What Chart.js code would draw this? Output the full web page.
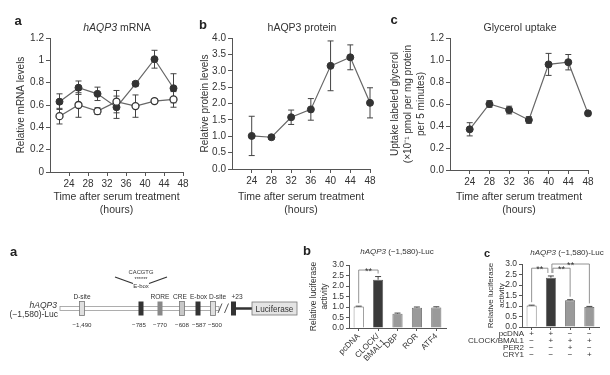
<!DOCTYPE html>
<html><head><meta charset="utf-8">
<script src="https://cdn.jsdelivr.net/npm/chart.js@4.4.1/dist/chart.umd.min.js"></script>
<style>
html,body{margin:0;padding:0;background:#fff}
body{width:610px;height:375px;position:relative;overflow:hidden;font-family:"Liberation Sans",Arial,Helvetica,sans-serif;color:#333}
canvas{position:absolute}
.lbl{position:absolute;white-space:nowrap;transform:translate(-50%,-50%);line-height:1}
.letter{font-weight:bold;font-size:13px;color:#222}
.ttl{font-size:10.5px}
.ttl2{font-size:8px}
svg{position:absolute;left:0;top:225px}
</style></head><body>
<canvas id="cA" width="200" height="225" style="left:0;top:0"></canvas>
<canvas id="cB" width="200" height="225" style="left:195px;top:0"></canvas>
<canvas id="cC" width="225" height="225" style="left:385px;top:0"></canvas>
<canvas id="cD" width="150" height="135" style="left:300px;top:240px"></canvas>
<canvas id="cE" width="150" height="135" style="left:460px;top:240px"></canvas>

<div class="lbl letter" style="left:18px;top:20px">a</div>
<div class="lbl ttl" style="left:117px;top:27px"><i>hAQP3</i> mRNA</div>
<div class="lbl letter" style="left:203px;top:24px">b</div>
<div class="lbl ttl" style="left:302px;top:27px">hAQP3 protein</div>
<div class="lbl letter" style="left:394px;top:19px">c</div>
<div class="lbl ttl" style="left:520px;top:27px">Glycerol uptake</div>

<div class="lbl letter" style="left:307px;top:250px">b</div>
<div class="lbl ttl2" style="left:397px;top:252px"><i>hAQP3</i> (−1,580)-Luc</div>
<div class="lbl letter" style="left:487px;top:253px;font-size:11px">c</div>
<div class="lbl ttl2" style="left:567px;top:253px"><i>hAQP3</i> (−1,580)-Luc</div>

<svg width="310" height="150" viewBox="0 225 310 150" font-family="Liberation Sans, Arial, sans-serif" fill="#333">
  <text x="10" y="256" font-weight="bold" font-size="13" fill="#222">a</text>
  <text x="57" y="308" font-size="8.5" text-anchor="end" font-style="italic">hAQP3</text>
  <text x="58" y="317" font-size="8.5" text-anchor="end">(−1,580)-Luc</text>
  <rect x="60" y="306.5" width="159" height="4" fill="#fff" stroke="#999" stroke-width="0.8"/>
  <line x1="218" y1="313" x2="222" y2="303.5" stroke="#555" stroke-width="1"/>
  <line x1="224.5" y1="313" x2="228.5" y2="303.5" stroke="#555" stroke-width="1"/>
  <line x1="236" y1="308.5" x2="252" y2="308.5" stroke="#333" stroke-width="2.5"/>
  <rect x="252" y="302" width="45" height="13" fill="#e4e4e4" stroke="#777" stroke-width="0.8"/>
  <text x="274.5" y="311.5" font-size="8.2" text-anchor="middle">Luciferase</text>
  <rect x="79.5" y="301.5" width="5" height="14" fill="#e0e0e0" stroke="#777" stroke-width="0.8"/>
  <rect x="138.5" y="301.5" width="5" height="14" fill="#333"/>
  <rect x="157.5" y="301.5" width="5" height="14" fill="#888"/>
  <rect x="179.5" y="301.5" width="5" height="14" fill="#c8c8c8" stroke="#777" stroke-width="0.8"/>
  <rect x="195.5" y="301.5" width="5" height="14" fill="#333"/>
  <rect x="210.5" y="301.5" width="5" height="14" fill="#e0e0e0" stroke="#777" stroke-width="0.8"/>
  <rect x="231" y="301.5" width="5" height="14" fill="#333"/>
  <line x1="115" y1="277" x2="133" y2="283.5" stroke="#333" stroke-width="1.2"/>
  <line x1="167" y1="277" x2="149" y2="283.5" stroke="#333" stroke-width="1.2"/>
  <text x="141" y="274" font-size="5.8" text-anchor="middle">CACGTG</text>
  <text x="141" y="281" font-size="5.5" text-anchor="middle">******</text>
  <text x="141" y="288" font-size="6" text-anchor="middle">E-box</text>
  <g font-size="6.6" text-anchor="middle">
    <text x="82" y="298.5">D-site</text>
    <text x="160" y="298.5">RORE</text>
    <text x="180" y="298.5">CRE</text>
    <text x="198.5" y="298.5">E-box</text>
    <text x="217.5" y="298.5">D-site</text>
    <text x="237" y="298.5">+23</text>
  </g>
  <g font-size="6.2" text-anchor="middle">
    <text x="82" y="326.5">−1,490</text>
    <text x="139" y="326.5">−785</text>
    <text x="160" y="326.5">−770</text>
    <text x="182" y="326.5">−608</text>
    <text x="199" y="326.5">−587</text>
    <text x="215" y="326.5">−500</text>
  </g>
</svg>

<script>
// ===== Data =====
const mrnaHours = [22, 26, 30, 34, 38, 42, 46];
const timeTicks = ['24', '28', '32', '36', '40', '44', '48'];
const mrnaFilled = [0.63, 0.755, 0.70, 0.58, 0.79, 1.01, 0.75];
const mrnaFilledErr = [0.07, 0.06, 0.06, 0.10, 0.02, 0.08, 0.13];
const mrnaOpen = [0.50, 0.60, 0.545, 0.63, 0.59, 0.635, 0.65];
const mrnaOpenErr = [0.07, 0.11, 0.03, 0.10, 0.10, 0.02, 0.07];

const protHours = [24, 28, 32, 36, 40, 44, 48];
const protein = [1.01, 0.97, 1.58, 1.82, 3.15, 3.41, 2.02];
const proteinErr = [0.60, 0.06, 0.22, 0.33, 0.76, 0.38, 0.46];

const glyHours = [24, 28, 32, 36, 40, 44, 48];
const glycerol = [0.37, 0.60, 0.545, 0.455, 0.96, 0.98, 0.515];
const glycerolErr = [0.06, 0.03, 0.035, 0.03, 0.10, 0.07, 0.02];

const mrnaYLabels = ['0', '0.2', '0.4', '0.6', '0.8', '1', '1.2'];
const proteinYLabels = ['0.0', '0.5', '1.0', '1.5', '2.0', '2.5', '3.0', '3.5', '4.0'];
const glycerolYLabels = ['0.0', '0.2', '0.4', '0.6', '0.8', '1.0', '1.2'];
const lucYLabels = ['0.0', '0.5', '1.0', '1.5', '2.0', '2.5', '3.0'];

const lucBCategories = ['pcDNA', ['CLOCK/', 'BMAL1'], 'DBP', 'ROR', 'ATF4'];
const lucB = [1.02, 2.30, 0.68, 0.97, 0.98];
const lucBErr = [0.02, 0.15, 0.03, 0.03, 0.03];

const lucCRows = ['pcDNA', 'CLOCK/BMAL1', 'PER2', 'CRY1'];
const lucCMatrix = [
  ['+', '+', '−', '−'],
  ['−', '+', '+', '+'],
  ['−', '−', '+', '−'],
  ['−', '−', '−', '+']
];
const lucC = [1.02, 2.35, 1.27, 0.95];
const lucCErr = [0.02, 0.08, 0.03, 0.03];

// ===== Helpers =====
const FONT = '"Liberation Sans", Arial, Helvetica, sans-serif';
const AX = '#555', TX = '#333';
Chart.defaults.font.family = FONT;

const fixedWidth = w => s => { s.width = w; };
const fixedHeight = h => s => { s.height = h; };
const ticksFrom = labels => axis => { axis.ticks = labels.map(l => ({ value: Number(l) })); };

const errorBars = {
  id: 'errorBars',
  beforeDatasetsDraw(chart) { drawErr(chart, false); },
  afterDatasetsDraw(chart) { drawErr(chart, true); }
};
function drawErr(chart, after) {
  const ctx = chart.ctx;
  chart.data.datasets.forEach((ds, i) => {
    if (!ds.errors || !!ds.errorAfter !== after) return;
    const meta = chart.getDatasetMeta(i);
    const ys = chart.scales[meta.yAxisID];
    ctx.save();
    ctx.strokeStyle = ds.errorColor || '#444';
    ctx.lineWidth = 1;
    meta.data.forEach((el, j) => {
      const raw = ds.data[j];
      const v = typeof raw === 'object' ? raw.y : raw;
      const e = ds.errors[j];
      const x = el.x;
      const y1 = ys.getPixelForValue(v + e);
      const y2 = ds.errorUpOnly ? ys.getPixelForValue(v) : ys.getPixelForValue(v - e);
      const cw = ds.capHalf || 3;
      ctx.beginPath();
      ctx.moveTo(x, y1); ctx.lineTo(x, y2);
      ctx.moveTo(x - cw, y1); ctx.lineTo(x + cw, y1);
      if (!ds.errorUpOnly) { ctx.moveTo(x - cw, y2); ctx.lineTo(x + cw, y2); }
      ctx.stroke();
    });
    ctx.restore();
  });
}

const brackets = {
  id: 'brackets',
  afterDatasetsDraw(chart, args, opts) {
    const items = opts.items || [];
    if (!items.length) return;
    const xs = chart.scales.x, ys = chart.scales.y, ctx = chart.ctx;
    const ds = chart.data.datasets[0];
    ctx.save();
    ctx.strokeStyle = '#777'; ctx.lineWidth = 0.8; ctx.fillStyle = '#333';
    ctx.font = '9px ' + FONT; ctx.textAlign = 'center'; ctx.textBaseline = 'alphabetic';
    items.forEach(it => {
      const x1 = xs.getPixelForValue(it.from) + (it.in1 || 0);
      const x2 = xs.getPixelForValue(it.to) - (it.in2 || 0);
      const yT = ys.getPixelForValue(it.level);
      const yA = ys.getPixelForValue(ds.data[it.from] + ds.errors[it.from]) - 3;
      const yB = ys.getPixelForValue(ds.data[it.to] + ds.errors[it.to]) - 3;
      ctx.beginPath();
      ctx.moveTo(x1, Math.max(yA, yT)); ctx.lineTo(x1, yT); ctx.lineTo(x2, yT); ctx.lineTo(x2, Math.max(yB, yT));
      ctx.stroke();
      ctx.fillText(it.label, (x1 + x2) / 2, yT + 4);
    });
    ctx.restore();
  }
};

const rowLabels = {
  id: 'rowLabels',
  afterDraw(chart, args, opts) {
    if (!opts.rows) return;
    const xs = chart.scales.x, ctx = chart.ctx;
    ctx.save();
    ctx.font = opts.size + 'px ' + FONT; ctx.fillStyle = TX;
    ctx.textAlign = 'right'; ctx.textBaseline = 'middle';
    const top = xs.top + opts.tickLength + opts.padding;
    opts.rows.forEach((r, i) => ctx.fillText(r, chart.chartArea.left + 2, top + opts.lineHeight * (i + 0.5)));
    ctx.restore();
  }
};

function axisStyle(tl) {
  return {
    grid: { drawOnChartArea: false, drawTicks: true, tickLength: tl, color: AX, lineWidth: 1 },
    border: { display: true, color: AX, width: 1 }
  };
}

function topOptions(o) {
  return {
    responsive: false, animation: false, devicePixelRatio: 1,
    layout: { padding: o.pad },
    plugins: { legend: { display: false }, tooltip: { enabled: false } },
    scales: {
      x: Object.assign({
        type: 'linear', min: 20, max: 48,
        afterBuildTicks: ticksFrom(timeTicks), afterFit: fixedHeight(o.xH),
        ticks: { color: TX, font: { size: 10 }, padding: 2, maxRotation: 0, autoSkip: false, callback: v => String(v) },
        title: { display: true, text: ['Time after serum treatment', '(hours)'], color: TX, font: { size: 10.5, lineHeight: '13px' }, padding: 0 }
      }, axisStyle(4)),
      y: Object.assign({
        min: 0, max: Number(o.yLabels[o.yLabels.length - 1]),
        afterBuildTicks: ticksFrom(o.yLabels), afterFit: fixedWidth(o.yW),
        ticks: { color: TX, font: { size: 10 }, padding: 2, autoSkip: false, callback: (v, i) => o.yLabels[i] },
        title: { display: true, text: o.yTitle, color: TX, font: { size: 10, lineHeight: '13px' }, padding: 0 }
      }, axisStyle(4))
    }
  };
}

function lineDS(xs, ys, errs, filled, order) {
  return {
    data: xs.map((x, i) => ({ x: x, y: ys[i] })),
    errors: errs,
    borderColor: '#666', borderWidth: 1.2, tension: 0,
    pointRadius: 3.5, pointHoverRadius: 3.5,
    pointBackgroundColor: filled ? '#333' : '#fff',
    pointBorderColor: '#333', pointBorderWidth: filled ? 1 : 1.3,
    order: order, clip: false
  };
}

// ===== Top a =====
new Chart(document.getElementById('cA'), {
  type: 'line',
  data: { datasets: [lineDS(mrnaHours, mrnaOpen, mrnaOpenErr, false, 0), lineDS(mrnaHours, mrnaFilled, mrnaFilledErr, true, 1)] },
  options: topOptions({ pad: { left: 15, right: 17, top: 38, bottom: 8 }, yW: 35, xH: 45, yLabels: mrnaYLabels, yTitle: 'Relative mRNA levels' }),
  plugins: [errorBars]
});

// ===== Top b =====
new Chart(document.getElementById('cB'), {
  type: 'line',
  data: { datasets: [lineDS(protHours, protein, proteinErr, true, 0)] },
  options: topOptions({ pad: { left: 3.5, right: 25, top: 38, bottom: 8 }, yW: 33.5, xH: 48, yLabels: proteinYLabels, yTitle: 'Relative protein levels' }),
  plugins: [errorBars]
});

// ===== Top c =====
new Chart(document.getElementById('cC'), {
  type: 'line',
  data: { datasets: [lineDS(glyHours, glycerol, glycerolErr, true, 0)] },
  options: topOptions({ pad: { left: 3.5, right: 22, top: 38, bottom: 8 }, yW: 61.5, xH: 47, yLabels: glycerolYLabels,
    yTitle: ['Uptake labeled glycerol', '(×10⁻¹ pmol per mg protein', 'per 5 minutes)'] }),
  plugins: [errorBars]
});

// ===== Bar charts =====
function barOptions(o) {
  return {
    responsive: false, animation: false, devicePixelRatio: 1,
    layout: { padding: o.pad },
    plugins: {
      legend: { display: false }, tooltip: { enabled: false },
      brackets: { items: o.brackets },
      rowLabels: o.rowLabels || {}
    },
    scales: {
      x: Object.assign({
        type: 'category', offset: true, afterFit: fixedHeight(o.xH),
        ticks: o.xTicks
      }, axisStyle(3), { grid: { drawOnChartArea: false, drawTicks: true, tickLength: 3, color: AX, offset: false } }),
      y: Object.assign({
        min: 0, max: 3,
        afterBuildTicks: ticksFrom(lucYLabels), afterFit: fixedWidth(o.yW),
        ticks: { color: TX, font: { size: 8.5 }, padding: 2, autoSkip: false, callback: (v, i) => lucYLabels[i] },
        title: { display: true, text: ['Relative luciferase', 'activity'], color: TX, font: { size: o.yTitleSize, lineHeight: '11px' }, padding: 0 }
      }, axisStyle(3))
    }
  };
}

new Chart(document.getElementById('cD'), {
  type: 'bar',
  data: {
    labels: lucBCategories,
    datasets: [{
      data: lucB, errors: lucBErr, errorUpOnly: true, errorAfter: true, capHalf: 3,
      backgroundColor: ['#ffffff', '#3a3a3a', '#9a9a9a', '#9a9a9a', '#9a9a9a'],
      borderColor: '#555', borderWidth: 0.8, barPercentage: 0.52, categoryPercentage: 1
    }]
  },
  options: barOptions({
    pad: { left: 8.5, right: 4, top: 25, bottom: 0 }, yW: 40.5, xH: 47, yTitleSize: 8.5,
    xTicks: { color: TX, font: { size: 8.2, lineHeight: '8.5px' }, padding: 1, minRotation: 45, maxRotation: 45, autoSkip: false },
    brackets: [{ from: 0, to: 1, level: 2.76, label: '**' }]
  }),
  plugins: [errorBars, brackets]
});

const lucCLabels = lucC.map((_, j) => lucCMatrix.map(r => r[j]));
new Chart(document.getElementById('cE'), {
  type: 'bar',
  data: {
    labels: lucCLabels,
    datasets: [{
      data: lucC, errors: lucCErr, errorUpOnly: true, errorAfter: true, capHalf: 3,
      backgroundColor: ['#ffffff', '#3a3a3a', '#9a9a9a', '#9a9a9a'],
      borderColor: '#555', borderWidth: 0.8, barPercentage: 0.52, categoryPercentage: 1
    }]
  },
  options: barOptions({
    pad: { left: 25, right: 11, top: 24, bottom: 0 }, yW: 37, xH: 48, yTitleSize: 8,
    xTicks: { color: TX, font: { size: 8, lineHeight: '7px' }, padding: 0, maxRotation: 0, autoSkip: false },
    brackets: [
      { from: 0, to: 1, level: 2.8, label: '**', in2: 3 },
      { from: 1, to: 2, level: 2.8, label: '**', in1: 2 },
      { from: 1, to: 3, level: 3.0, label: '**', in1: 1 }
    ],
    rowLabels: { rows: lucCRows, size: 8, lineHeight: 7, tickLength: 3, padding: 0 }
  }),
  plugins: [errorBars, brackets, rowLabels]
});
</script>
</body></html>
